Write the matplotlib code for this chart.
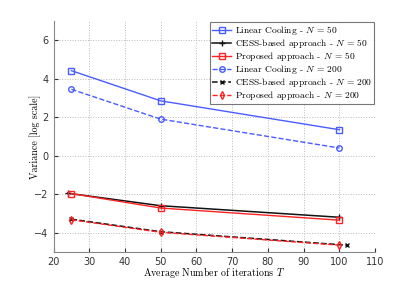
import matplotlib.pyplot as plt

# Average number of iterations T for each run
t_lin = [25, 50, 100]
t_cess_50 = [24, 50, 100]
t_cess_200 = [25, 50, 102]
t_prop = [25, 50, 100]

# Variance (log scale)
lin_50 = [4.42, 2.85, 1.35]
cess_50 = [-1.95, -2.6, -3.2]
prop_50 = [-1.97, -2.72, -3.35]
lin_200 = [3.45, 1.9, 0.4]
cess_200 = [-3.3, -3.95, -4.65]
prop_200 = [-3.33, -3.98, -4.65]

blue = "#4a5cff"
red = "#ff2222"

plt.rcParams["mathtext.fontset"] = "cm"

fig = plt.figure(figsize=(4.15, 2.84), dpi=100)
ax = fig.add_axes([0.129, 0.113, 0.775, 0.813])

ax.plot(t_lin, lin_50, "-", color=blue, lw=1, marker="s", ms=4, mfc="none",
        label=r"Linear Cooling - $N$ = 50")
ax.plot(t_cess_50, cess_50, "-", color="#111111", lw=1.1, marker="+", ms=5,
        label=r"CESS-based approach - $N$ = 50")
ax.plot(t_prop, prop_50, "-", color=red, lw=1, marker="s", ms=4, mfc="none",
        label=r"Proposed approach - $N$ = 50")
ax.plot(t_lin, lin_200, "--", color=blue, lw=1, marker="o", ms=4, mfc="none",
        label=r"Linear Cooling - $N$ = 200")
ax.plot(t_cess_200, cess_200, "--", color="#111111", lw=1.1, marker="x", ms=3,
        label=r"CESS-based approach - $N$ = 200")
ax.plot(t_prop, prop_200, "--", color=red, lw=1, marker="d", ms=4, mfc="none",
        label=r"Proposed approach - $N$ = 200")

ax.set_xlim(20, 110)
ax.set_ylim(-5, 7)
ax.set_xticks(range(20, 111, 10))
ax.set_yticks(range(-4, 7, 2))
ax.tick_params(direction="in", labelsize=7, length=3, colors="#333333")
ax.grid(True, linestyle=":", color="#bbbbbb", lw=0.7)
for s in ["top", "right"]:
    ax.spines[s].set_visible(False)
for s in ["left", "bottom"]:
    ax.spines[s].set_color("#888888")

ax.set_xlabel(r"Average Number of iterations $T$", family="cmr10", fontsize=7.2, labelpad=-1)
ax.set_ylabel("Variance [log scale]", family="cmr10", fontsize=7.2, labelpad=-5)

leg = ax.legend(loc="upper right", prop={"family": "cmr10", "size": 6.8},
                fancybox=False, edgecolor="#555555", handlelength=2.0,
                borderpad=0.2, labelspacing=0.0, handletextpad=0.4,
                borderaxespad=0.1)
leg.get_frame().set_linewidth(0.8)

fig.savefig("out.png", dpi=100)
